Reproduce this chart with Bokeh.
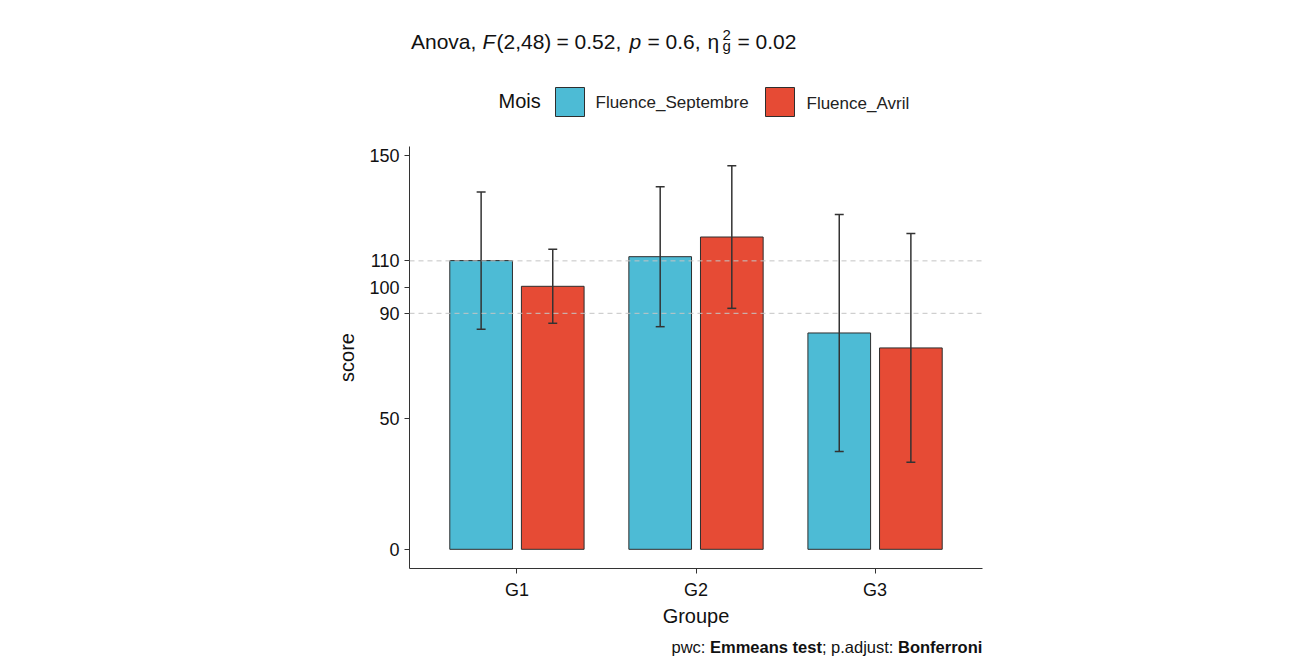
from bokeh.plotting import figure
from bokeh.layouts import column
from bokeh.models import (ColumnDataSource, FactorRange, Range1d, FixedTicker, Span, Label,
                          BoxAnnotation)
from bokeh.transform import dodge
from bokeh.embed import file_html
from bokeh.resources import INLINE

# ---------------- data ----------------
groups = ["G1", "G2", "G3"]
months = ["Fluence_Septembre", "Fluence_Avril"]
sept_mean = [110.1, 111.6, 82.5]
sept_sd = [26.2, 26.7, 45.2]
avril_mean = [100.3, 119.1, 76.8]
avril_sd = [14.1, 27.2, 43.6]
y_ticks = [0, 50, 90, 100, 110, 150]
ref_lines = [110, 90]
colors = ["#4DBBD5", "#E64B35"]

FONT = "Liberation Sans"
TXT = "#111111"
W = 1301
H_TOP, H_MAIN, H_BOT = 126, 506, 25
DODGE = 0.2
BAR_W = 0.35
CAP = 0.025
BASE_FIX = 0.4   # em offset between requested and drawn baseline


def make_source(means, sds):
    return ColumnDataSource(dict(
        group=groups, mean=means,
        lower=[m - s for m, s in zip(means, sds)],
        upper=[m + s for m, s in zip(means, sds)],
    ))


def blank_fig(h):
    f = figure(width=W, height=h, x_range=Range1d(0, W), y_range=Range1d(h, 0),
               x_axis_type=None, y_axis_type=None, output_backend="svg",
               toolbar_location=None, min_border=0)
    f.outline_line_color = None
    f.background_fill_color = "white"
    f.border_fill_color = "white"
    return f


def lab(f, txt, x, y, size, style="normal", color=TXT):
    """y is the wanted alphabetic baseline in canvas pixels."""
    f.add_layout(Label(x=x, y=y - BASE_FIX * size, x_units="canvas", y_units="canvas",
                       text=txt, text_font=FONT, text_font_size=f"{size}px",
                       text_font_style=style, text_align="left",
                       text_baseline="alphabetic", text_color=color))


# ---------------- main chart ----------------
src_sept = make_source(sept_mean, sept_sd)
src_avril = make_source(avril_mean, avril_sd)

ymax = max(max(src_sept.data["upper"]), max(src_avril.data["upper"]))
pad = 0.05 * ymax

p = figure(width=W, height=H_MAIN,
           x_range=FactorRange(*groups, range_padding=0.1, range_padding_units="absolute"),
           y_range=Range1d(-pad, ymax + pad),
           output_backend="svg", toolbar_location=None,
           min_border_left=409, min_border_right=319,
           min_border_top=20, min_border_bottom=64)
p.background_fill_color = "white"
p.border_fill_color = "white"
p.outline_line_color = None
p.xgrid.visible = False
p.ygrid.visible = False

for loc in ref_lines:
    p.add_layout(Span(location=loc, dimension="width", line_color="#C4C4C4",
                      line_dash="5 4", line_width=1))

for src, off, col in [(src_sept, -DODGE, colors[0]), (src_avril, DODGE, colors[1])]:
    p.vbar(x=dodge("group", off, range=p.x_range), top="mean", bottom=0,
           width=BAR_W, source=src, fill_color=col, line_color="#2E2E2E",
           line_width=1)
    p.segment(x0=dodge("group", off, range=p.x_range), y0="lower",
              x1=dodge("group", off, range=p.x_range), y1="upper",
              source=src, line_color="#333333", line_width=1.5)
    for fld in ["lower", "upper"]:
        p.segment(x0=dodge("group", off - CAP, range=p.x_range), y0=fld,
                  x1=dodge("group", off + CAP, range=p.x_range), y1=fld,
                  source=src, line_color="#333333", line_width=1.5)

for ax in (p.xaxis[0], p.yaxis[0]):
    ax.axis_line_color = "#333333"
    ax.axis_line_width = 1
    ax.major_tick_line_color = "#333333"
    ax.major_tick_in = 0
    ax.major_tick_out = 5
    ax.minor_tick_line_color = None
    ax.major_label_text_font = FONT
    ax.major_label_text_font_size = "18px"
    ax.major_label_text_color = TXT
    ax.axis_label_text_font = FONT
    ax.axis_label_text_font_size = "20px"
    ax.axis_label_text_font_style = "normal"
    ax.axis_label_text_color = TXT

p.yaxis.ticker = FixedTicker(ticks=y_ticks)
p.yaxis.major_label_standoff = 5
p.yaxis.axis_label = "score"
p.yaxis.axis_label_standoff = 8
p.xaxis.major_label_standoff = 6
p.xaxis.axis_label = "Groupe"
p.xaxis.axis_label_standoff = 2

# ---------------- top: title + legend ----------------
top = blank_fig(H_TOP)

# legend (drawn by hand: swatches + labels), canvas pixel layout
sw_left = [555, 765]
sw_size = 29
sw_top = 87
for x0, col in zip(sw_left, colors):
    top.add_layout(BoxAnnotation(left=x0, right=x0 + sw_size, top=sw_top,
                                 bottom=sw_top + sw_size,
                                 left_units="canvas", right_units="canvas",
                                 top_units="canvas", bottom_units="canvas",
                                 fill_color=col, fill_alpha=1,
                                 line_color="#2E2E2E", line_width=1, line_alpha=1))
lab(top, "Mois", 498, 108.5, 20)
lab(top, months[0], 595, 108.5, 17, color="#222222")
lab(top, months[1], 806, 109.5, 17, color="#222222")

# title
lab(top, "Anova,", 410.5, 49.5, 21)
lab(top, "F", 482, 49.5, 21, "italic")
lab(top, "(2,48)", 496, 49.5, 21)
lab(top, "= 0.52,", 556, 49.5, 21)
lab(top, "p", 629, 49.5, 21, "italic")
lab(top, "= 0.6,", 647, 49.5, 21)
lab(top, "\u03b7", 707, 49.5, 21)
lab(top, "2", 722, 40, 15)
lab(top, "g", 722, 51, 15)
lab(top, "= 0.02", 737, 49.5, 21)

# ---------------- bottom: caption ----------------
bot = blank_fig(H_BOT)
lab(bot, "pwc:", 671, 21.5, 16.5)
lab(bot, "Emmeans test", 709.5, 21.5, 16.5, "bold")
lab(bot, "; p.adjust:", 821.4, 21.5, 16.5)
lab(bot, "Bonferroni", 897.5, 21.5, 16.5, "bold")

layout = column(top, p, bot, spacing=0)
open("out.html", "w").write(file_html(layout, INLINE))
